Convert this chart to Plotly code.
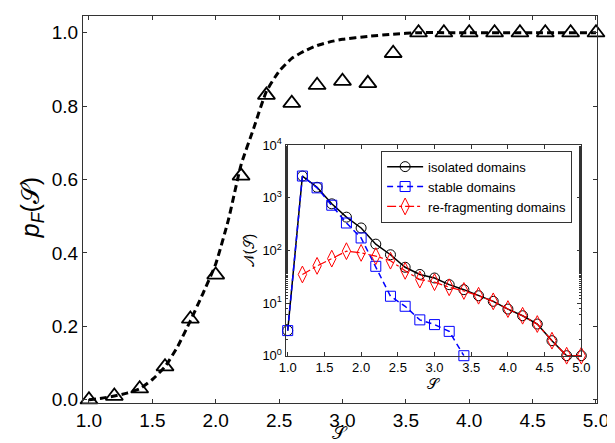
import plotly.graph_objects as go

# ---- main panel data ----
s_points = [1.0, 1.2, 1.4, 1.6, 1.8, 2.0, 2.2, 2.4, 2.6, 2.8, 3.0, 3.2, 3.4, 3.6, 3.8, 4.0, 4.2, 4.4, 4.6, 4.8, 5.0]
pf_points = [0.0, 0.01, 0.03, 0.09, 0.22, 0.34, 0.61, 0.83, 0.808, 0.857, 0.868, 0.862, 0.944, 1.0, 1.0, 1.0, 1.0, 1.0, 1.0, 1.0, 1.0]

s_curve = [1.0, 1.1, 1.2, 1.3, 1.4, 1.5, 1.6, 1.7, 1.8, 1.9, 2.0, 2.1, 2.2, 2.3, 2.4, 2.5, 2.6, 2.7, 2.8, 2.9, 3.0, 3.2, 3.4, 3.6, 4.0, 4.5, 5.0]
pf_curve = [0.0, 0.004, 0.01, 0.018, 0.03, 0.055, 0.09, 0.145, 0.215, 0.29, 0.37, 0.49, 0.64, 0.74, 0.84, 0.895, 0.93, 0.95, 0.965, 0.975, 0.982, 0.99, 0.996, 1.0, 1.0, 1.0, 1.0]

# ---- inset data ----
s_inset = [1.0, 1.2, 1.4, 1.6, 1.8, 2.0, 2.2, 2.4, 2.6, 2.8, 3.0, 3.2, 3.4, 3.6, 3.8, 4.0, 4.2, 4.4, 4.6, 4.8, 5.0]
n_isolated = [3, 2600, 1590, 770, 430, 268, 132, 83, 48, 35, 30, 22.4, 18, 13.8, 10.8, 7.7, 5.75, 4.0, 1.93, 1.0, 1.0]
s_stable = [1.0, 1.2, 1.4, 1.6, 1.8, 2.0, 2.2, 2.4, 2.6, 2.8, 3.0, 3.2, 3.4]
n_stable = [3, 2600, 1550, 725, 333, 173, 50, 13.5, 8.7, 4.8, 3.9, 2.9, 1.0]
s_refrag = [1.2, 1.4, 1.6, 1.8, 2.0, 2.2, 2.4, 2.6, 2.8, 3.0, 3.2, 3.4, 3.6, 3.8, 4.0, 4.2, 4.4, 4.6, 4.8, 5.0]
n_refrag = [35, 51, 70, 97, 90, 78, 64, 41, 28, 25, 20, 17, 13.8, 10.8, 7.7, 5.75, 4.0, 1.93, 1.0, 1.0]

main_xticks = [1.0, 1.5, 2.0, 2.5, 3.0, 3.5, 4.0, 4.5, 5.0]
main_yticks = [0.0, 0.2, 0.4, 0.6, 0.8, 1.0]
inset_yticks = [1, 10, 100, 1000, 10000]
inset_yticktext = ["10<sup>0</sup>", "10<sup>1</sup>", "10<sup>2</sup>", "10<sup>3</sup>", "10<sup>4</sup>"]

FONT = "Liberation Sans, Arial, sans-serif"
AX = "#333333"

fig = go.Figure()

fig.add_trace(go.Scatter(x=s_curve, y=pf_curve, mode="lines",
                         line=dict(color="black", width=3, dash="7px,4px", shape="spline", smoothing=0.5),
                         showlegend=False, xaxis="x", yaxis="y"))
fig.add_trace(go.Scatter(x=s_points, y=pf_points, mode="markers",
                         marker=dict(symbol="triangle-up-open", size=15, color="black",
                                     line=dict(width=1.8, color="black")),
                         showlegend=False, xaxis="x", yaxis="y", cliponaxis=False))

fig.add_trace(go.Scatter(x=s_inset, y=n_isolated, mode="lines+markers", name="isolated domains",
                         line=dict(color="black", width=1.5),
                         marker=dict(symbol="circle-open", size=10, color="black", line=dict(width=1)),
                         xaxis="x2", yaxis="y2", cliponaxis=False))
fig.add_trace(go.Scatter(x=s_stable, y=n_stable, mode="lines+markers", name="stable domains",
                         line=dict(color="blue", width=1.5, dash="6px,4px"),
                         marker=dict(symbol="square-open", size=10, color="blue", line=dict(width=1)),
                         xaxis="x2", yaxis="y2", cliponaxis=False))
fig.add_trace(go.Scatter(x=s_refrag, y=n_refrag, mode="lines+markers", name="re-fragmenting domains",
                         line=dict(color="red", width=1.2, dash="dashdot"),
                         marker=dict(symbol="diamond-tall-open", size=12, color="red", line=dict(width=1)),
                         xaxis="x2", yaxis="y2", cliponaxis=False))

common = dict(ticks="inside", ticklen=4, tickcolor=AX, showline=True, linecolor=AX, linewidth=1,
              mirror="ticks", showgrid=False, zeroline=False, automargin=False)

fig.update_layout(
    width=615, height=443,
    margin=dict(l=75, r=26, t=8, b=48),
    paper_bgcolor="white", plot_bgcolor="white",
    font=dict(family=FONT, color="black"),
    xaxis=dict(domain=[0, 1], range=[0.953, 5.008], tickvals=main_xticks,
               ticktext=[f"{v:.1f}" for v in main_xticks], tickfont=dict(size=19), **common),
    yaxis=dict(domain=[0, 1], range=[-0.009, 1.0455], tickvals=main_yticks,
               ticktext=[f"{v:.1f}" for v in main_yticks], tickfont=dict(size=19), **common),
    xaxis2=dict(domain=[0.394, 0.9695], anchor="y2", range=[0.97, 5.0], tickvals=main_xticks,
                ticktext=[f"{v:.1f}" for v in main_xticks], tickfont=dict(size=13),
                title=dict(text="𝒮", font=dict(size=15), standoff=0), **common),
    yaxis2=dict(domain=[0.1222, 0.666], anchor="x2", type="log", range=[0, 4],
                tickvals=inset_yticks, ticktext=inset_yticktext, tickfont=dict(size=13),
                minor=dict(ticks="inside", ticklen=2, tickcolor=AX, showgrid=False),
                title=dict(text="𝒩(𝒮)", font=dict(size=14), standoff=4), **common),
    legend=dict(x=0.58, y=0.652, xanchor="left", yanchor="top", bgcolor="white",
                bordercolor="#333333", borderwidth=1, font=dict(size=13),
                tracegroupgap=0, itemwidth=36),
    showlegend=True,
    annotations=[
        dict(text="𝒮", xref="paper", yref="paper", x=0.5, y=-0.078, xanchor="center",
             yanchor="middle", showarrow=False, font=dict(size=18)),
        dict(text="<i>p</i><sub><i>F</i></sub>(𝒮)", xref="paper", yref="paper",
             x=-0.1, y=0.505, xanchor="center", yanchor="middle", textangle=-90,
             showarrow=False, font=dict(size=25)),
    ],
)

fig.write_html("out.html")
